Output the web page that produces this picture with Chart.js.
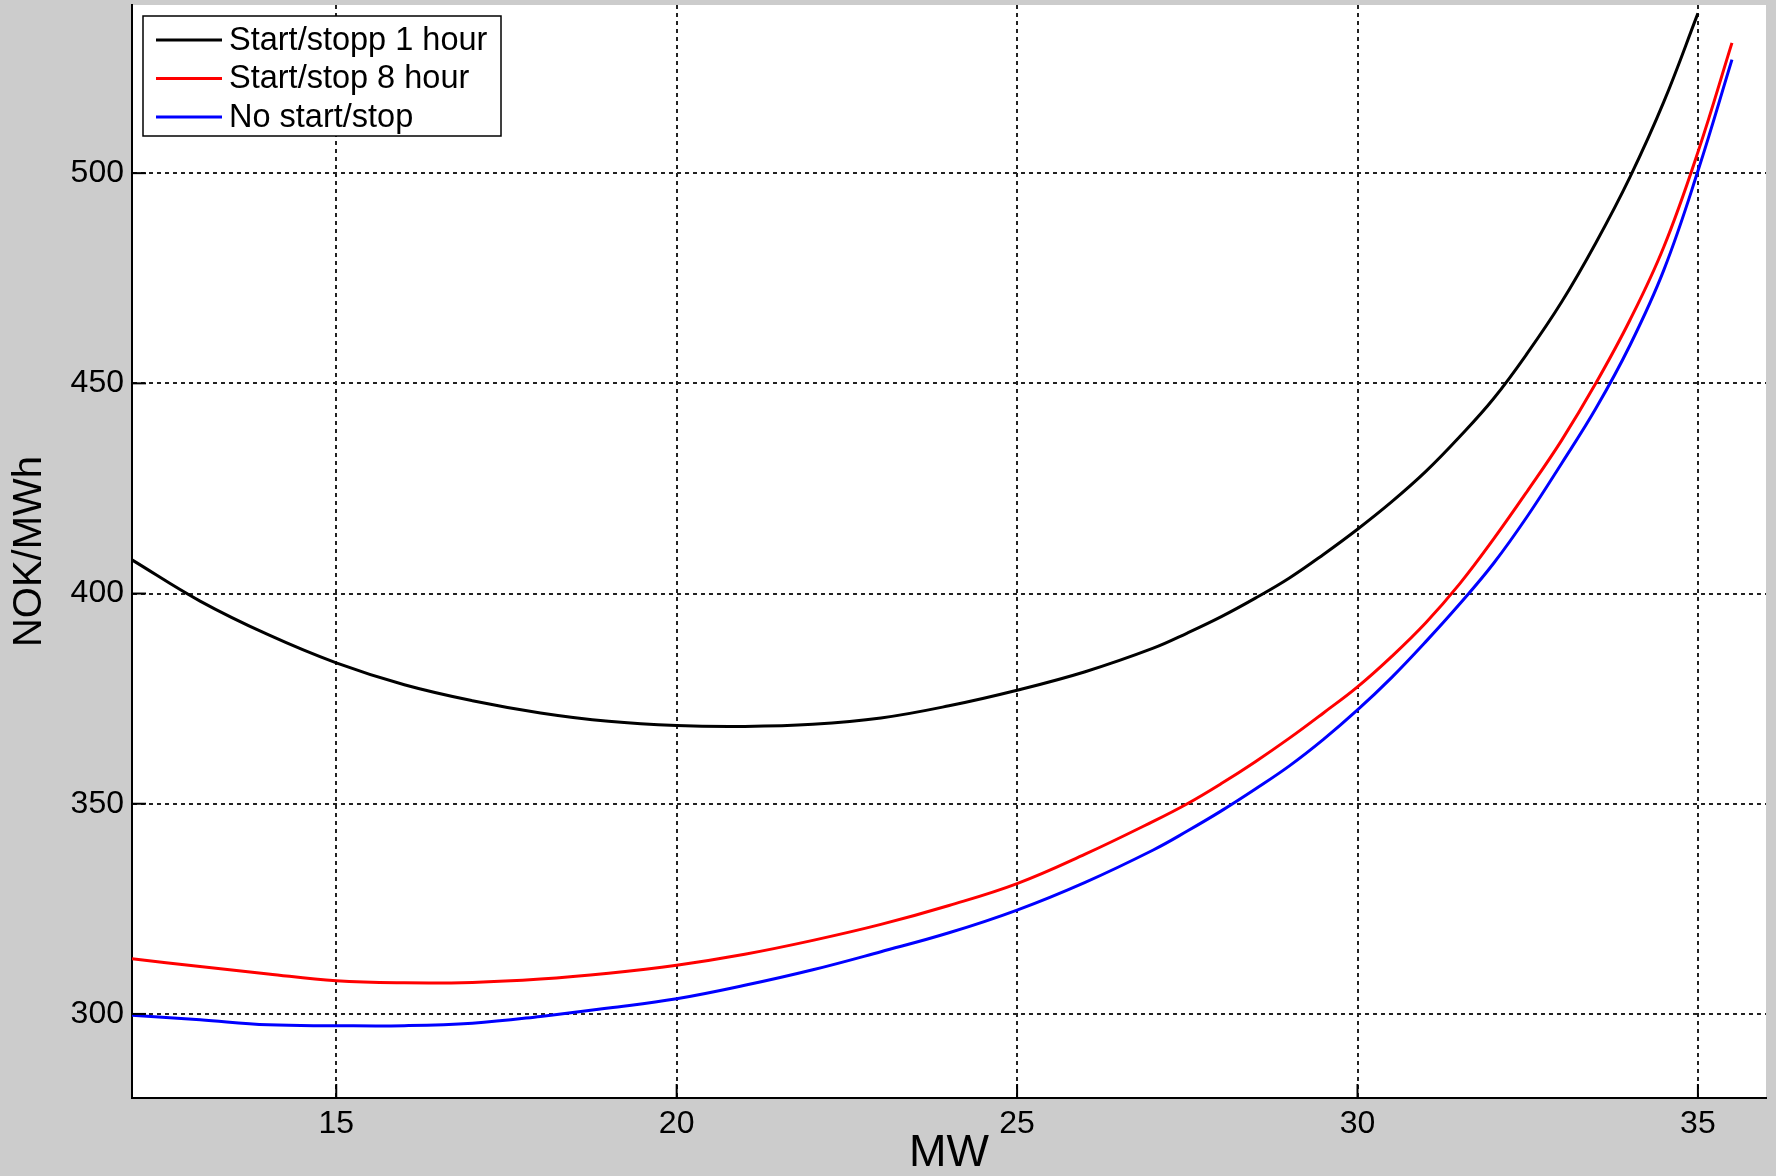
<!DOCTYPE html>
<html>
<head>
<meta charset="utf-8">
<script src="https://cdn.jsdelivr.net/npm/chart.js@4"></script>
<style>
  html, body { margin: 0; padding: 0; background: #cccccc; }
  canvas { display: block; }
</style>
</head>
<body>
<canvas id="chart" width="1776" height="1176"></canvas>
<script>
// MW values (x axis)
const mw = [12, 13, 14, 15, 16, 17, 18, 19, 20, 21, 22, 23, 24, 25, 26, 27, 27.5, 28, 28.5,
            29, 29.5, 30, 30.5, 31, 31.5, 32, 32.5, 33, 33.5, 34, 34.5, 35, 35.5];

// NOK/MWh per series
const startStopp1Hour = [408, 398.2, 390.2, 383.5, 378.3, 374.5, 371.6, 369.6, 368.6, 368.4, 368.9, 370.4,
                         373.3, 377, 381.4, 387, 390.6, 394.5, 398.9, 403.7, 409.3, 415.3, 421.8,
                         429, 437.3, 446.4, 457.3, 469.4, 483.4, 499, 517, 538, null];
const startStop8Hour = [313.1, 311.3, 309.5, 307.9, 307.4, 307.5, 308.3, 309.7, 311.6, 314.2, 317.5,
                        321.3, 325.8, 331, 338, 345.8, 350, 354.8, 360, 365.6, 371.6, 377.8, 385,
                        393, 402.3, 413, 424.5, 436.5, 450, 465, 482.5, 505, 531];
const noStartStop = [299.7, 298.6, 297.4, 297.2, 297.2, 297.8, 299.4, 301.4, 303.6, 306.8, 310.5,
                     314.8, 319.3, 324.7, 331.3, 339, 343.5, 348.3, 353.5, 359, 365.3, 372.3, 380,
                     388.5, 397.5, 407.2, 418.5, 431, 444, 459, 477, 500.5, 527];

const seriesLabels = ['Start/stopp 1 hour', 'Start/stop 8 hour', 'No start/stop'];
const seriesColors = ['#000000', '#ff0000', '#0000ff'];

const FONT = 'Arial, "Liberation Sans", sans-serif';

// ghép x và y thành điểm
function toPoints(ys) {
    return mw.map((x, i) => ({ x: x, y: ys[i] }));
}

// nền xám cho cả hình, nền trắng cho vùng vẽ
const backgroundPlugin = {
    id: 'background',
    beforeDraw(chart) {
        const ctx = chart.ctx;
        const a = chart.chartArea;
        ctx.save();
        ctx.fillStyle = '#cccccc';
        ctx.fillRect(0, 0, chart.width, chart.height);
        ctx.fillStyle = '#ffffff';
        ctx.fillRect(a.left, a.top, a.right - a.left, a.bottom - a.top);
        ctx.restore();
    }
};

// vạch chia hướng vào trong + chú thích trong khung
const matlabPlugin = {
    id: 'matlabStyle',
    afterDraw(chart) {
        const ctx = chart.ctx;
        const a = chart.chartArea;
        const xs = chart.scales.x;
        const ys = chart.scales.y;
        ctx.save();
        ctx.strokeStyle = '#000';
        ctx.lineWidth = 2;
        xs.ticks.forEach(t => {
            const px = xs.getPixelForValue(t.value);
            ctx.beginPath();
            ctx.moveTo(px, a.bottom);
            ctx.lineTo(px, a.bottom - 14);
            ctx.stroke();
        });
        ys.ticks.forEach(t => {
            const py = ys.getPixelForValue(t.value);
            ctx.beginPath();
            ctx.moveTo(a.left, py);
            ctx.lineTo(a.left + 14, py);
            ctx.stroke();
        });

        // legend box
        const bx = 143, by = 16, bw = 358, bh = 120;
        ctx.fillStyle = '#ffffff';
        ctx.fillRect(bx, by, bw, bh);
        ctx.lineWidth = 1.5;
        ctx.strokeStyle = '#000';
        ctx.strokeRect(bx, by, bw, bh);
        ctx.font = '32.5px ' + FONT;
        ctx.textBaseline = 'middle';
        ctx.textAlign = 'left';
        chart.data.datasets.forEach((ds, i) => {
            const y = by + 24 + i * 38.5;
            ctx.strokeStyle = ds.borderColor;
            ctx.lineWidth = 3;
            ctx.beginPath();
            ctx.moveTo(bx + 13, y);
            ctx.lineTo(bx + 79, y);
            ctx.stroke();
            ctx.fillStyle = '#000';
            ctx.fillText(ds.label, bx + 86, y + 1);
        });
        ctx.restore();
    }
};

const data = {
    datasets: [
        { label: seriesLabels[0], data: toPoints(startStopp1Hour), borderColor: seriesColors[0] },
        { label: seriesLabels[1], data: toPoints(startStop8Hour), borderColor: seriesColors[1] },
        { label: seriesLabels[2], data: toPoints(noStartStop), borderColor: seriesColors[2] }
    ].map(d => Object.assign(d, {
        borderWidth: 3,
        pointRadius: 0,
        fill: false,
        tension: 0.4,
        spanGaps: false
    }))
};

const config = {
    type: 'line',
    data: data,
    options: {
        responsive: false,
        animation: false,
        devicePixelRatio: 1,
        layout: { padding: { left: 0, top: 5, right: 10, bottom: 0 } },
        plugins: {
            legend: { display: false },
            tooltip: { enabled: false }
        },
        scales: {
            x: {
                type: 'linear',
                min: 12,
                max: 36,
                afterFit(scale) {
                    scale.height = 78;
                    scale.paddingLeft = 0;
                    scale.paddingRight = 0;
                },
                ticks: {
                    stepSize: 5,
                    includeBounds: false,
                    padding: 7,
                    color: '#000',
                    font: { family: FONT, size: 32 }
                },
                grid: { color: '#222', lineWidth: 2, drawTicks: false },
                border: { display: true, color: '#000', width: 2, dash: [4, 4] },
                title: {
                    display: true,
                    text: 'MW',
                    color: '#000',
                    padding: { top: 0, bottom: 0 },
                    font: { family: FONT, size: 45, lineHeight: 1 }
                }
            },
            y: {
                type: 'linear',
                min: 280,
                max: 540,
                afterFit(scale) {
                    scale.width = 132;
                    scale.paddingTop = 0;
                    scale.paddingBottom = 0;
                },
                ticks: {
                    stepSize: 50,
                    includeBounds: false,
                    padding: 8,
                    color: '#000',
                    font: { family: FONT, size: 32 }
                },
                grid: { color: '#222', lineWidth: 2, drawTicks: false },
                border: { display: true, color: '#000', width: 2, dash: [4, 4] },
                title: {
                    display: true,
                    text: 'NOK/MWh',
                    color: '#000',
                    padding: { top: 10, bottom: 0 },
                    font: { family: FONT, size: 40, lineHeight: 1 }
                }
            }
        }
    },
    plugins: [backgroundPlugin, matlabPlugin]
};

const ctx = document.getElementById('chart');
new Chart(ctx, config);
</script>
</body>
</html>
